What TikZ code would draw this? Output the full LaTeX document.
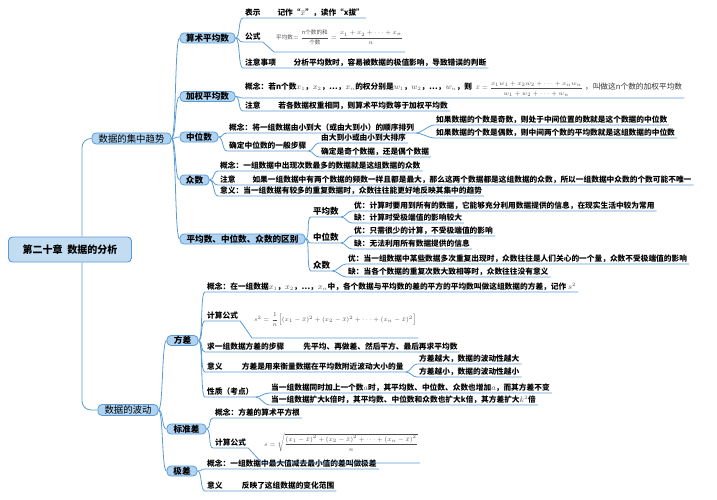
\documentclass[tikz,border=0pt]{standalone}
\usepackage{amsmath}
\usepackage{fontspec}
\setmainfont{Noto Sans CJK SC}
\usepackage{xcolor}
\usetikzlibrary{calc}
\definecolor{LinkBlue}{HTML}{5B9BD5}
\definecolor{BoxFill}{HTML}{AFD3F1}
\definecolor{RootFill}{HTML}{C2DCF2}
\definecolor{FormGrey}{HTML}{505050}
\newcommand{\gm}[1]{\textcolor{FormGrey}{$#1$}}
\newcommand{\leaffont}{\fontsize{7.7}{9}\selectfont\bfseries}
\newcommand{\midfont}{\fontsize{8.5}{10}\selectfont\bfseries}

\begin{document}
\begin{tikzpicture}[x=1pt,y=-1pt,
  every node/.style={inner sep=0pt},
  root/.style={rounded corners=4pt,draw=LinkBlue,fill=RootFill,line width=0.9pt,minimum width=123pt,minimum height=25pt,font=\fontsize{10}{12}\selectfont\bfseries},
  topic/.style={rounded corners=4pt,draw=LinkBlue,fill=BoxFill,line width=0.8pt,minimum height=11pt,font=\fontsize{9.4}{11}\selectfont},
  sub/.style={topic,minimum height=10pt,font=\fontsize{8.6}{10}\selectfont\bfseries},
  leaf/.style={anchor=south west,inner xsep=2pt,inner ysep=1.5pt,font=\leaffont},
  form/.style={anchor=south west,inner xsep=2pt,inner ysep=1pt,text=FormGrey},
  link/.style={draw=LinkBlue,line width=0.8pt},
  twig/.style={to path={.. controls +(5,0) and +(-5,0) .. (\tikztotarget)}}
]
\useasboundingbox (0,0) rectangle (717,500);

% root and main topics
\node[root] (root) at (70,249.5) {第二十章\ \ 数据的分析};
\node[topic,minimum width=79pt] (jz) at (131.5,138.5) {数据的集中趋势};
\node[topic,minimum width=60pt] (bd) at (128,410) {数据的波动};

\node[sub,minimum width=55pt] (ss) at (207.5,38) {算术平均数};
\node[sub,minimum width=55pt] (jq) at (207.5,96.5) {加权平均数};
\node[sub,minimum width=38pt] (zw) at (199,137) {中位数};
\node[sub,minimum width=29pt] (zs) at (194.5,180) {众数};
\node[sub,minimum width=125pt] (qb) at (242.5,239) {平均数、中位数、众数的区别};
\node[sub,minimum width=31pt] (fc) at (182.5,340.5) {方差};
\node[sub,minimum width=39pt] (bz) at (186.5,429) {标准差};
\node[sub,minimum width=30pt] (jc) at (182,471) {极差};

% 算术平均数
\node[leaf] (bs) at (243,18) {表示\hspace{2.2em}记作“\gm{\bar{x}}”，读作“x拔”\hspace{4em}};
\node[leaf] (gs) at (243,42) {公式\hspace{0.6em}};
\node[form,minimum height=28pt,font=\fontsize{5.6}{6.5}\selectfont] (gsf) at (274,52) {平均数$=\dfrac{\mbox{n个数的和}}{\mbox{个数}}=\dfrac{x_1+x_2+\cdots+x_n}{n}$\hspace{1.5em}};
\node[leaf] (zy) at (243,68) {注意事项\hspace{2.3em}分析平均数时，容易被数据的极值影响，导致错误的判断};

% 加权平均数
\node[leaf] (jqgn) at (243,98) {概念：若n个数\gm{x_1}，\gm{x_2}，…，\gm{x_n}的权分别是\gm{w_1}，\gm{w_2}，…，\gm{w_n}，则\hspace{0.5em}{\fontsize{5.6}{6.5}\selectfont\color{FormGrey}$\bar{x}=\dfrac{x_1w_1+x_2w_2+\cdots+x_nw_n}{w_1+w_2+\cdots+w_n}$}\hspace{0.3em}{\mdseries\color{black!80}，叫做这n个数的加权平均数}\hspace{0.8em}};
\node[leaf] (jqzy) at (243,111) {注意\hspace{2.3em}若各数据权重相同，则算术平均数等于加权平均数};

% 中位数
\node[leaf] (zwgn) at (227,133) {概念：将一组数据由小到大（或由大到小）的顺序排列\hspace{1em}};
\node[leaf] (zwji) at (434,125) {如果数据的个数是奇数，则处于中间位置的数就是这个数据的中位数\hspace{1em}};
\node[leaf] (zwou) at (434,138) {如果数据的个数是偶数，则中间两个数的平均数就是这组数据的中位数\hspace{1em}};
\node[leaf] (zwbz) at (227,151) {确定中位数的一般步骤};
\node[leaf] (zwpx) at (319,143) {由大到小或由小到大排序};
\node[leaf] (zwjo) at (319,157) {确定是奇个数据，还是偶个数据\hspace{3em}};

% 众数
\node[leaf] (zsgn) at (218,171) {概念：一组数据中出现次数最多的数据就是这组数据的众数\hspace{2em}};
\node[leaf] (zszy) at (218,185) {注意\hspace{2.2em}如果一组数据中有两个数据的频数一样且都是最大，那么这两个数据都是这组数据的众数，所以一组数据中众数的个数可能不唯一\hspace{1.5em}};
\node[leaf] (zsyy) at (218,196) {意义：当一组数据有较多的重复数据时，众数往往能更好地反映其集中的趋势};

% 区别
\node[leaf,font=\midfont] (qbpj) at (311,217) {平均数};
\node[leaf] (pjyou) at (352,211) {优：计算时要用到所有的数据，它能够充分利用数据提供的信息，在现实生活中较为常用\hspace{1.5em}};
\node[leaf] (pjque) at (352,223) {缺：计算时受极端值的影响较大};
\node[leaf,font=\midfont] (qbzw) at (311,243) {中位数};
\node[leaf] (zwyou) at (352,236) {优：只需很少的计算，不受极端值的影响};
\node[leaf] (zwque) at (352,249) {缺：无法利用所有数据提供的信息};
\node[leaf,font=\midfont] (qbzs) at (311,271) {众数};
\node[leaf] (zsyou) at (346,264) {优：当一组数据中某些数据多次重复出现时，众数往往是人们关心的一个量，众数不受极端值的影响\hspace{1em}};
\node[leaf] (zsque) at (346,277) {缺：当各个数据的重复次数大致相等时，众数往往没有意义\hspace{3em}};

% 方差
\node[leaf] (fcgn) at (205,292) {概念：在一组数据\gm{x_1}，\gm{x_2}，…，\gm{x_n}中，各个数据与平均数的差的平方的平均数叫做这组数据的方差，记作\ \gm{s^2}\hspace{1.5em}};
\node[leaf] (fcgs) at (205,321) {计算公式};
\node[form,minimum height=36pt,font=\fontsize{6.2}{7}\selectfont] (fcgsf) at (252,338) {$s^2=\dfrac{1}{n}\Big[(x_1-\bar{x})^2+(x_2-\bar{x})^2+\cdots+(x_n-\bar{x})^2\Big]$\hspace{1em}};
\node[leaf] (fcbz) at (205,352) {求一组数据方差的步骤\hspace{2.5em}先平均、再做差、然后平方、最后再求平均数};
\node[leaf] (fcyy) at (205,372) {意义\hspace{2.5em}方差是用来衡量数据在平均数附近波动大小的量};
\node[leaf] (fcda) at (417,364) {方差越大，数据的波动性越大};
\node[leaf] (fcxi) at (417,377) {方差越小，数据的波动性越小};
\node[leaf] (fcxz) at (205,397) {性质（考点）};
\node[leaf] (xzjia) at (269,393) {当一组数据同时加上一个数\gm{a}时，其平均数、中位数、众数也增加\gm{a}，而其方差不变};
\node[leaf] (xzkuo) at (269,405) {当一组数据扩大k倍时，其平均数、中位数和众数也扩大k倍，其方差扩大\gm{k^2}倍};

% 标准差
\node[leaf] (bzgn) at (213,418) {概念：方差的算术平方根};
\node[leaf] (bzgs) at (213,448) {计算公式};
\node[form,minimum height=40pt,font=\fontsize{6.2}{7}\selectfont] (bzgsf) at (262,463) {$s=\sqrt{\dfrac{(x_1-\bar{x})^2+(x_2-\bar{x})^2+\cdots+(x_n-\bar{x})^2}{n}}$\hspace{1em}};

% 极差
\node[leaf] (jcgn) at (205,469) {概念：一组数据中最大值减去最小值的差叫做极差\hspace{1.5em}};
\node[leaf] (jcyy) at (205,491) {意义\hspace{2.5em}反映了这组数据的变化范围};

% connectors
\draw[link,rounded corners=9pt] ([xshift=12pt]root.north) |- (jz.west);
\draw[link,rounded corners=9pt] ([xshift=12pt]root.south) |- (bd.west);
\foreach \c in {ss,jq,zw,zs,qb} \draw[link] (jz.east) to[twig] (\c.west);
\foreach \c in {fc,bz,jc} \draw[link] (bd.east) to[twig] (\c.west);
\foreach \p/\c in {ss/bs,ss/zy,jq/jqgn,jq/jqzy,zw/zwgn,zw/zwbz,zs/zsgn,zs/zszy,zs/zsyy,
  qb/qbpj,qb/qbzw,qb/qbzs,fc/fcgn,fc/fcbz,fc/fcyy,fc/fcxz,bz/bzgn,jc/jcgn,jc/jcyy}
  \draw[link] (\p.east) to[twig] (\c.south west) -- (\c.south east);
\foreach \p/\c in {zwgn/zwji,zwgn/zwou,zwbz/zwpx,zwbz/zwjo,qbpj/pjyou,qbpj/pjque,qbzw/zwyou,qbzw/zwque,
  qbzs/zsyou,qbzs/zsque,fcyy/fcda,fcyy/fcxi,fcxz/xzjia,fcxz/xzkuo}
  \draw[link] (\p.south east) to[twig] (\c.south west) -- (\c.south east);
\draw[link] (ss.east) to[twig] (gs.south west) -- (gs.south east) -- (gsf.south west) -- (gsf.south east);
\draw[link] (fc.east) to[twig] (fcgs.south west) -- (fcgs.south east) -- (fcgsf.south west) -- (fcgsf.south east);
\draw[link] (bz.east) to[twig] (bzgs.south west) -- (bzgs.south east) -- (bzgsf.south west) -- (bzgsf.south east);
\end{tikzpicture}
\end{document}
